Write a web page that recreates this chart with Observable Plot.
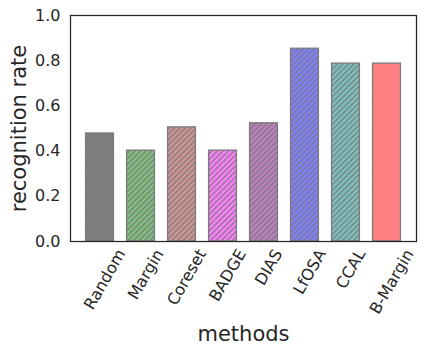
<!DOCTYPE html>
<html>
<head>
<meta charset="utf-8">
<script src="https://cdn.jsdelivr.net/npm/d3@7"></script>
<script src="https://cdn.jsdelivr.net/npm/@observablehq/plot@0.6"></script>
<style>
  html, body { margin: 0; padding: 0; background: #fff; }
  #chart { width: 425px; height: 358px; }
</style>
</head>
<body>
<div id="chart"></div>
<script>
const methods = ["Random", "Margin", "Coreset", "BADGE", "DIAS", "LfOSA", "CCAL", "B-Margin"];
const rates = [0.478, 0.402, 0.505, 0.402, 0.523, 0.853, 0.787, 0.787];
const colors = ["#808080", "#80c080", "#d29595", "#ff80ff", "#c080c0", "#8080ff", "#80c0c0", "#ff8080"];
const hatched = [true, true, true, true, true, true, true, false];
const yTicks = [0, 0.2, 0.4, 0.6, 0.8, 1.0];

const data = methods.map((m, i) => ({method: m, rate: rates[i], color: colors[i], hatch: hatched[i]}));

const W = 425, H = 358;
const mL = 70, mR = 9, mT = 15, mB = 117;
const ink = "#262626";

const chart = Plot.plot({
  width: W,
  height: H,
  marginLeft: mL,
  marginRight: mR,
  marginTop: mT,
  marginBottom: mB,
  style: {fontFamily: "DejaVu Sans", fontSize: "16px", color: ink, background: "#fff", overflow: "visible"},
  x: {domain: methods, paddingInner: 0.32, paddingOuter: 0.38, round: false, label: null},
  y: {domain: [0, 1], label: null},
  marks: [
    Plot.barY(data, {x: "method", y: "rate", fill: "color"}),
    Plot.barY(data.filter(d => d.hatch), {x: "method", y: "rate", fill: "url(#hatch)"}),
    Plot.barY(data, {x: "method", y: "rate", fill: "none", stroke: "#7a7a7a", strokeWidth: 1.3}),
    Plot.frame({stroke: ink, strokeWidth: 1.25}),
    Plot.axisY({ticks: yTicks, tickFormat: d3.format(".1f"), tickSize: 0, tickPadding: 10, fontSize: 16, label: null}),
    Plot.axisX({tickSize: 0, tickPadding: 6, fontSize: 16, tickRotate: -60, label: null}),
    Plot.text(["recognition rate"], {frameAnchor: "left", dx: -51, rotate: -90, fontSize: 21, textAnchor: "middle", fill: ink}),
    Plot.text(["methods"], {frameAnchor: "bottom", dy: 99, fontSize: 21, textAnchor: "middle", fill: ink})
  ]
});

document.getElementById("chart").appendChild(chart);

// hatch pattern definition
const ns = "http://www.w3.org/2000/svg";
const defs = document.createElementNS(ns, "defs");
const pat = document.createElementNS(ns, "pattern");
const s = 5.5;
pat.setAttribute("id", "hatch");
pat.setAttribute("patternUnits", "userSpaceOnUse");
pat.setAttribute("width", s);
pat.setAttribute("height", s);
const p = document.createElementNS(ns, "path");
p.setAttribute("d", `M0,${s} L${s},0 M${-s/2},${s/2} L${s/2},${-s/2} M${s/2},${s*1.5} L${s*1.5},${s/2}`);
p.setAttribute("stroke", "#777777");
p.setAttribute("stroke-width", "1.15");
p.setAttribute("fill", "none");
pat.appendChild(p);
defs.appendChild(pat);
chart.insertBefore(defs, chart.firstChild);

// reposition rotated x tick labels: matplotlib centers rotated bbox under the tick
const axisTop = H - mB + 3;
const rad = 60 * Math.PI / 180;
chart.querySelectorAll('[aria-label="x-axis tick label"] text').forEach(t => {
  const tr = t.getAttribute("transform") || "";
  const m = tr.match(/translate\(([-\d.]+),\s*([-\d.]+)\)/);
  const g = t.parentNode;
  const gtr = g.getAttribute("transform") || "";
  const gm = gtr.match(/translate\(([-\d.]+),\s*([-\d.]+)\)/);
  const gx = gm ? +gm[1] : 0, gy = gm ? +gm[2] : 0;
  const x = (m ? +m[1] : 0) + gx;
  const L = t.getComputedTextLength();
  const fh = 16;
  const hr = L * Math.sin(rad) + fh * Math.cos(rad);
  const cy = axisTop + hr / 2;
  t.setAttribute("text-anchor", "middle");
  t.setAttribute("dy", "0.35em");
  t.setAttribute("font-size", "16");
  t.setAttribute("transform", `translate(${x - gx},${cy - gy}) rotate(-60)`);
});
</script>
</body>
</html>
